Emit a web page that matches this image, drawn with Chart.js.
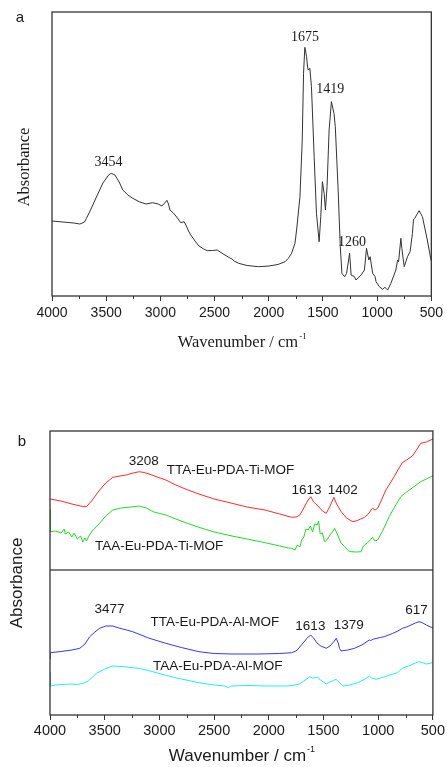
<!DOCTYPE html>
<html lang="en">
<head>
<meta charset="UTF-8">
<title>FTIR spectra</title>
<script src="https://cdn.jsdelivr.net/npm/chart.js"></script>
<style>
    body { margin: 0; background: #fff; }
    .panel { position: absolute; left: 0; }
    #panelA { top: 0; }
    #panelB { top: 400px; }
</style>
</head>
<body>
<canvas id="panelA" class="panel" width="447" height="360"></canvas>
<canvas id="panelB" class="panel" width="447" height="367"></canvas>

<script>
// [wavenumber cm-1, absorbance a.u.]
const specA = [[4000,75],[3900,74],[3800,73],[3743,72],[3700,74],[3682,77.7],[3640,87],[3590,99],[3530,113],[3478,121],
    [3453,122.7],[3420,121],[3380,114],[3347,106],[3300,101],[3255,97.7],[3190,94],[3132,92],[3072,93.3],[3020,92],
    [2986,90],[2960,93],[2940,95.7],[2925,92],[2912,86],[2880,83],[2857,80],[2830,76],[2812,73.3],[2781,74.3],
    [2760,70],[2740,65],[2720,61],[2680,55],[2644,50],[2600,47],[2568,45.3],[2520,45.5],[2476,46],[2420,42],
    [2369,38.7],[2340,37],[2320,35],[2278,32.7],[2200,30.5],[2094,29.3],[2000,30],[1941,31],[1911,31.7],[1850,34.3],
    [1819,37.7],[1789,42.7],[1758,52.7],[1743,66],[1712,99.3],[1691,156],[1679,222.7],[1667,248.7],[1651,239.3],[1643,230],
    [1636,226],[1621,227.7],[1606,209.3],[1581,139.3],[1560,82.7],[1535,54.3],[1520,79.3],[1505,114.3],[1489,102.7],[1477,86],
    [1462,109.3],[1443,166],[1422,194.3],[1398,182.7],[1386,169.3],[1361,109.3],[1340,49.3],[1325,22.7],[1300,19.3],[1282,22.7],
    [1254,42.7],[1240,21],[1209,19.3],[1194,16],[1148,21],[1117,26],[1098,47.7],[1077,36],[1065,39.3],[1041,22.7],
    [1019,19.3],[1010,14.3],[980,9.3],[949,6.7],[928,8.7],[903,6],[873,12.7],[827,26],[811,36],[802,34.3],
    [781,57.7],[772,47.7],[750,29.3],[720,39.3],[696,44.3],[674,62.7],[665,76],[653,77.7],[613,85.3],[582,79.3],
    [537,56],[506,37.7],[500,35]];

const specTiTTA = [[4000,216],[3900,214],[3800,211],[3700,208.5],[3667,208.3],[3620,214],[3580,220],[3546,225],[3490,232],[3426,237.7],
    [3360,239],[3304,240],[3240,242],[3183,243.3],[3140,242.5],[3093,241],[3020,238],[2941,235],[2850,230],[2740,225],
    [2639,221],[2500,216],[2336,211.7],[2200,208],[2034,205],[1900,201],[1792,197.7],[1750,198],[1716,200],[1680,207],
    [1640,215],[1616,218.3],[1590,213],[1550,209],[1510,204],[1475,201.7],[1440,209],[1405,217.7],[1380,211],[1338,203.3],
    [1290,197],[1232,193.3],[1190,194.5],[1160,196],[1126,197.7],[1090,201],[1060,206],[1051,206.7],[1030,205],[1005,206.7],
    [970,215],[930,225],[890,232],[854,238.3],[815,246],[779,252.3],[740,255],[688,259],[650,265],[612,271.7],
    [560,273],[506,275.7],[500,277]];

const specTiTAA = [[4000,206],[3998,183.3],[3950,184],[3900,182],[3870,186],[3860,181],[3830,183],[3800,178],[3780,182],[3750,176],
    [3720,179],[3700,173],[3680,177],[3667,174],[3640,180],[3600,186],[3546,191.7],[3490,199],[3426,205],[3350,207],
    [3260,208],[3183,209],[3120,207],[3050,203],[2941,200],[2850,196],[2740,191.5],[2639,187.7],[2500,183],[2336,179],
    [2200,176],[2034,172.3],[1900,169],[1820,167],[1792,166.7],[1760,165],[1740,170],[1716,168],[1700,175],[1680,178],
    [1660,186],[1640,185],[1620,189],[1600,183],[1580,191],[1556,190],[1545,194],[1530,181],[1510,182],[1490,173.3],
    [1470,175],[1440,180],[1420,183],[1398,186.7],[1370,180],[1340,172],[1307,168.3],[1270,164],[1247,163.3],[1200,163],
    [1157,163.3],[1140,168],[1126,170],[1100,172],[1080,174],[1051,177.7],[1030,174],[1005,175],[960,184],[900,198.3],
    [850,208],[794,218.3],[740,223],[673,228.3],[612,233.3],[560,236],[506,239],[500,240]];

const specAlTTA = [[4000,56],[3998,62.3],[3900,63.5],[3800,65],[3728,66.7],[3680,71],[3637,78.3],[3590,83],[3546,86.7],[3490,89],
    [3426,89],[3370,87],[3300,85],[3244,83.3],[3100,77],[2941,71.7],[2800,67.5],[2639,63.3],[2500,61.5],[2336,61],
    [2100,61],[1900,61.5],[1792,62.3],[1750,64],[1716,68],[1680,73],[1640,78],[1616,79.7],[1590,77],[1560,72],
    [1525,69],[1475,66.7],[1440,69],[1400,74],[1384,76.7],[1365,72],[1354,66.7],[1340,64],[1323,64.3],[1280,65],
    [1217,66.7],[1150,70],[1081,75],[1070,74.5],[1040,76],[980,77.5],[945,78.3],[870,81.5],[820,84],[779,86.7],
    [740,88],[700,90],[660,92],[627,93.3],[600,92.5],[560,90],[506,87.3],[500,87]];

const specAlTAA = [[4000,43],[3998,29],[3950,30],[3900,30.5],[3800,31],[3750,30.5],[3698,31.7],[3650,34],[3610,38],[3576,41.7],
    [3500,46],[3426,49],[3340,48.5],[3260,47.5],[3183,46.7],[3050,43],[2941,39.7],[2800,36],[2639,32.3],[2500,30],
    [2400,29],[2370,27.3],[2350,28.7],[2336,29],[2200,29.5],[2000,29],[1850,29],[1792,29.3],[1720,31],[1680,34],
    [1640,37],[1625,38.3],[1600,36.7],[1570,37.7],[1550,37.7],[1530,35],[1500,33],[1475,31],[1440,33],[1410,34.5],
    [1384,35.7],[1350,32],[1320,29],[1307,29],[1260,30],[1187,32.3],[1120,36],[1081,39],[1060,37],[1021,35.7],
    [950,38],[880,40.5],[824,42.3],[779,46.7],[700,50],[660,52],[627,53.3],[600,52.5],[560,51],[506,52.3],[500,52.3]];

// level of the separator between the Ti and Al groups
const dividerLevel = 145;

const xTicksMajor = [4000, 3500, 3000, 2500, 2000, 1500, 1000, 500];

// peak / curve labels: [text, wavenumber, absorbance]
const peaksA = [['3454', 3478, 134], ['1675', 1666, 258.7], ['1419', 1432, 206.7], ['1260', 1233, 53.7]];
const peaksB = [['3208', 3144, 253.3], ['TTA-Eu-PDA-Ti-MOF', 2351, 245], ['1613', 1656, 224.3], ['1402', 1323, 224.3],
    ['TAA-Eu-PDA-Ti-MOF', 3002, 168.3], ['3477', 3456, 105.7], ['TTA-Eu-PDA-Al-MOF', 2494, 92.3],
    ['1613', 1620, 88.3], ['1379', 1269, 89.7], ['617', 649, 105], ['TAA-Eu-PDA-Al-MOF', 2466, 49]];

const toPts = arr => arr.map(p => ({x: p[0], y: p[1]}));

// frame, minor ticks, axis titles, peak labels
const decorate = {
    id: 'decorate',
    afterDraw(chart, args, o) {
        const {ctx, chartArea: ca, scales: {x, y}} = chart;
        ctx.save();
        ctx.strokeStyle = '#333';
        ctx.lineWidth = 1.3;
        ctx.strokeRect(ca.left, ca.top, ca.right - ca.left, ca.bottom - ca.top);
        ctx.lineWidth = 1;
        x.ticks.forEach(t => {
            if (t.value % 500 !== 0) {
                const px = Math.round(x.getPixelForValue(t.value)) + 0.5;
                ctx.beginPath();
                ctx.moveTo(px, ca.bottom);
                ctx.lineTo(px, ca.bottom + 3);
                ctx.stroke();
            }
        });

        ctx.fillStyle = '#1a1a1a';
        ctx.textAlign = 'center';
        ctx.textBaseline = 'middle';
        ctx.font = o.labelFont;
        o.labels.forEach(l => ctx.fillText(l[0], x.getPixelForValue(l[1]), y.getPixelForValue(l[2])));

        // x title with superscript
        ctx.font = o.titleFont;
        const main = 'Wavenumber / cm';
        const wMain = ctx.measureText(main).width;
        ctx.font = o.supFont;
        const wSup = ctx.measureText('-1').width;
        const cx = (ca.left + ca.right) / 2;
        const x0 = cx - (wMain + wSup) / 2;
        const base = ca.bottom + o.xTitleOffset;
        ctx.textAlign = 'left';
        ctx.textBaseline = 'alphabetic';
        ctx.font = o.titleFont;
        ctx.fillText(main, x0, base);
        ctx.font = o.supFont;
        ctx.fillText('-1', x0 + wMain + 1, base - o.supRise);

        // y title
        ctx.save();
        ctx.translate(o.yTitleX, o.yTitleY);
        ctx.rotate(-Math.PI / 2);
        ctx.textAlign = 'center';
        ctx.textBaseline = 'middle';
        ctx.font = o.titleFont;
        ctx.fillText('Absorbance', 0, 0);
        ctx.restore();

        // panel letter
        ctx.textAlign = 'center';
        ctx.textBaseline = 'middle';
        ctx.font = '15px "Liberation Sans", Arial, sans-serif';
        ctx.fillText(o.letter, o.letterX, o.letterY);
        ctx.restore();
    }
};

function makeChart(id, datasets, pad, axisHeight, tickFont, tickPad, deco) {
    return new Chart(document.getElementById(id), {
        type: 'line',
        data: { datasets: datasets },
        options: {
            responsive: false,
            animation: false,
            parsing: true,
            layout: { padding: pad },
            plugins: { legend: { display: false }, tooltip: { enabled: false }, decorate: deco },
            elements: { point: { radius: 0 }, line: { borderWidth: 1, tension: 0 } },
            scales: {
                x: {
                    type: 'linear',
                    reverse: true,
                    min: 500,
                    max: 4000,
                    ticks: {
                        stepSize: 250,
                        autoSkip: false,
                        maxRotation: 0,
                        padding: tickPad,
                        color: '#1a1a1a',
                        font: tickFont,
                        callback: v => xTicksMajor.includes(v) ? String(v) : ''
                    },
                    grid: {
                        drawOnChartArea: false,
                        tickLength: 5,
                        lineWidth: 1,
                        color: c => (c.tick && c.tick.value % 500 === 0) ? '#333' : 'rgba(0,0,0,0)'
                    },
                    border: { display: false },
                    afterFit: s => { s.height = axisHeight; }
                },
                y: { min: 0, max: 284, display: false }
            }
        },
        plugins: [decorate]
    });
}

const serif = '"Liberation Serif", "Times New Roman", serif';
const sans = '"Liberation Sans", Arial, sans-serif';

makeChart('panelA',
    [{ data: toPts(specA), borderColor: '#333' }],
    { left: 52, top: 12, right: 13, bottom: 0 }, 64,
    { family: sans, size: 14 }, 4,
    {
        labels: peaksA, labelFont: '14px ' + serif,
        titleFont: '16.5px ' + serif, supFont: '9px ' + serif, supRise: 8,
        xTitleOffset: 51, yTitleX: 25, yTitleY: 167,
        letter: 'a', letterX: 20, letterY: 18
    });

makeChart('panelB',
    [
        { data: toPts(specTiTTA), borderColor: '#ff2a2a' },
        { data: toPts(specTiTAA), borderColor: '#22dd22' },
        { data: [{x: 4000, y: dividerLevel}, {x: 500, y: dividerLevel}], borderColor: '#555', borderWidth: 1.3 },
        { data: toPts(specAlTTA), borderColor: '#3535ff' },
        { data: toPts(specAlTAA), borderColor: '#22eeee' }
    ],
    { left: 50, top: 31, right: 11, bottom: 0 }, 52,
    { family: sans, size: 14.5 }, 2,
    {
        labels: peaksB, labelFont: '13.5px ' + sans,
        titleFont: '17px ' + sans, supFont: '9px ' + sans, supRise: 9,
        xTitleOffset: 46, yTitleX: 17, yTitleY: 183,
        letter: 'b', letterX: 22, letterY: 42
    });
</script>
</body>
</html>
